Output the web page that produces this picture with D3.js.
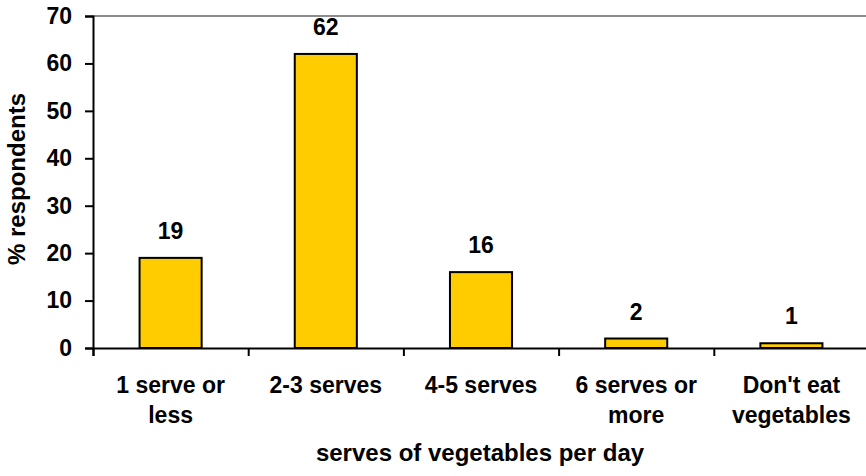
<!DOCTYPE html>
<html>
<head>
<meta charset="utf-8">
<script src="https://cdn.jsdelivr.net/npm/d3@7"></script>
<style>
  body { margin: 0; background: #fff; }
  svg { display: block; }
  text { font-family: "Liberation Sans", Arial, sans-serif; font-weight: bold; fill: #000; }
</style>
</head>
<body>
<svg id="chart" width="866" height="476"></svg>
<script>
// Share of respondents by daily serves of vegetables
const categories = ["1 serve or\nless", "2-3 serves", "4-5 serves", "6 serves or\nmore", "Don't eat\nvegetables"];
const values = [19, 62, 16, 2, 1];
const yTicks = [0, 10, 20, 30, 40, 50, 60, 70];
const xTitle = "serves of vegetables per day";
const yTitle = "% respondents";

const plot = { left: 93, right: 869, top: 16, bottom: 348 };
const fontSize = 23;
const titleSize = 24;

const svg = d3.select("#chart");

const x = d3.scaleBand()
  .domain(categories)
  .range([plot.left, plot.right])
  .paddingInner(0.6)
  .paddingOuter(0.3);

const y = d3.scaleLinear()
  .domain([0, 70])
  .range([plot.bottom, plot.top]);

// Boundaries between categories, used for the x tick marks
const edge = d3.scaleLinear()
  .domain([0, categories.length])
  .range([plot.left, plot.right]);

// Top border of the plot area
svg.append("line")
  .attr("x1", plot.left).attr("x2", plot.right)
  .attr("y1", y(70)).attr("y2", y(70))
  .attr("stroke", "#8c8c8c").attr("stroke-width", 2);

// Bars
svg.append("g").selectAll("rect")
  .data(values)
  .join("rect")
  .attr("x", (d, i) => x(categories[i]))
  .attr("y", d => y(d))
  .attr("width", x.bandwidth())
  .attr("height", d => y(0) - y(d))
  .attr("fill", "#ffcc00")
  .attr("stroke", "#000")
  .attr("stroke-width", 2);

// Value labels above bars
svg.append("g").selectAll("text")
  .data(values)
  .join("text")
  .attr("x", (d, i) => x(categories[i]) + x.bandwidth() / 2)
  .attr("y", d => y(d) - 19)
  .attr("text-anchor", "middle")
  .attr("font-size", fontSize)
  .text(d => d);

// Y axis
const yAxis = svg.append("g")
  .attr("transform", `translate(${plot.left},0)`)
  .call(d3.axisLeft(y).tickValues(yTicks).tickSize(8).tickPadding(13));
yAxis.select(".domain").attr("stroke", "#000").attr("stroke-width", 2);
yAxis.selectAll(".tick line").attr("stroke", "#000").attr("stroke-width", 2);
yAxis.selectAll(".tick text")
  .attr("font-size", fontSize)
  .attr("font-family", "Liberation Sans, Arial, sans-serif")
  .attr("font-weight", "bold")
  .attr("fill", "#000");

// X axis: tick marks on category boundaries
const xAxis = svg.append("g")
  .attr("transform", `translate(0,${plot.bottom})`)
  .call(d3.axisBottom(edge).tickValues(d3.range(categories.length + 1)).tickSize(8).tickFormat(""));
xAxis.select(".domain").attr("stroke", "#000").attr("stroke-width", 2);
xAxis.selectAll(".tick line").attr("stroke", "#000").attr("stroke-width", 2);

// Category labels (two lines where needed)
const catLabels = svg.append("g").selectAll("text")
  .data(categories)
  .join("text")
  .attr("x", d => x(d) + x.bandwidth() / 2)
  .attr("y", 393)
  .attr("text-anchor", "middle")
  .attr("font-size", fontSize);
catLabels.selectAll("tspan")
  .data(d => d.split("\n"))
  .join("tspan")
  .attr("x", function () { return d3.select(this.parentNode).attr("x"); })
  .attr("dy", (d, i) => i === 0 ? 0 : 30)
  .text(d => d);

// Axis titles
svg.append("text")
  .attr("x", 480)
  .attr("y", 461)
  .attr("text-anchor", "middle")
  .attr("font-size", titleSize)
  .text(xTitle);

svg.append("text")
  .attr("transform", `translate(25,179) rotate(-90)`)
  .attr("text-anchor", "middle")
  .attr("font-size", titleSize)
  .text(yTitle);
</script>
</body>
</html>
